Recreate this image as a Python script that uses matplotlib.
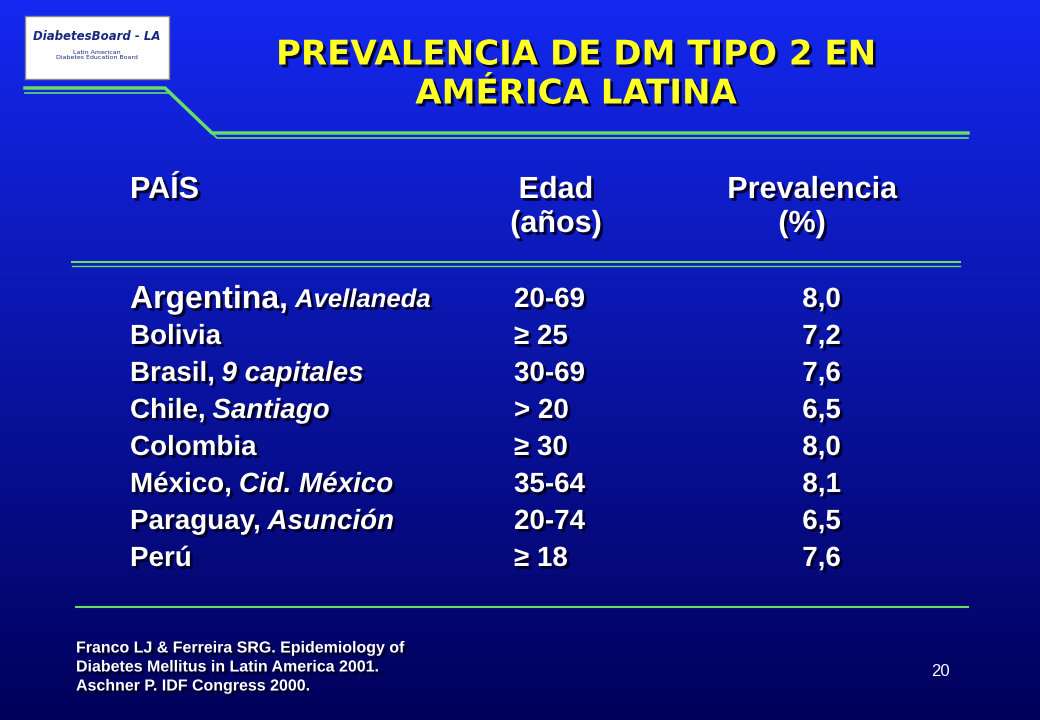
import numpy as np
import matplotlib
matplotlib.use("Agg")
import matplotlib.pyplot as plt
import matplotlib.patheffects as pe

title = ["PREVALENCIA DE DM TIPO 2 EN", "AMÉRICA LATINA"]
countries = ["Argentina,", "Bolivia", "Brasil,", "Chile,", "Colombia", "México,", "Paraguay,", "Perú"]
cities = ["Avellaneda", "", "9 capitales", "Santiago", "", "Cid. México", "Asunción", ""]
ages = ["20-69", "≥ 25", "30-69", "> 20", "≥ 30", "35-64", "20-74", "≥ 18"]
prevalence = [8.0, 7.2, 7.6, 6.5, 8.0, 8.1, 6.5, 7.6]
refs = ["Franco LJ & Ferreira SRG. Epidemiology of", "Diabetes Mellitus in Latin America 2001.", "Aschner P. IDF Congress 2000."]

fig = plt.figure(figsize=(10.4, 7.2), dpi=100)
ax = fig.add_axes([0, 0, 1, 1])
ax.set_xlim(0, 1040); ax.set_ylim(720, 0); ax.axis("off")

t = np.linspace(0, 1, 256)[:, None]
top = np.array([0x14, 0x28, 0xf0]) / 255
bot = np.array([0x00, 0x00, 0x5a]) / 255
grad = top * (1 - t[..., None]) + bot * t[..., None]
grad = np.repeat(grad, 2, axis=1)
ax.imshow(grad, extent=[0, 1040, 720, 0], aspect="auto", zorder=0)

sh = [pe.withSimplePatchShadow(offset=(2, -2), shadow_rgbFace="#000020", alpha=0.9)]
green = "#66dd66"

ax.add_patch(plt.Rectangle((25, 16), 144, 63, facecolor="white", edgecolor="#888888", zorder=2))
ax.text(97, 36, "DiabetesBoard - LA", fontsize=8.5, fontweight="bold", style="italic", color="#1a2a80", ha="center", va="center", zorder=3)
ax.text(97, 55, "Latin American\nDiabetes Education Board", fontsize=4.5, color="#1a2a80", ha="center", va="center", zorder=3)

for off, lw in [(0, 2.5), (5, 1.2)]:
    ax.plot([25, 165 + off, 212 + off, 968], [88 + off, 88 + off, 133 + off, 133 + off], color=green, lw=lw, zorder=2)

ax.text(576, 55, title[0], fontsize=24.5, fontweight="bold", color="#ffff22", ha="center", va="center", path_effects=sh)
ax.text(576, 94, title[1], fontsize=24.5, fontweight="bold", color="#ffff22", ha="center", va="center", path_effects=sh)

kw = dict(color="white", fontweight="bold", va="center", path_effects=sh, fontfamily="Liberation Sans")
ax.text(130, 190, "PAÍS", fontsize=22, **kw)
ax.text(556, 190, "Edad", fontsize=22, ha="center", **kw)
ax.text(556, 224, "(años)", fontsize=22, ha="center", **kw)
ax.text(812, 190, "Prevalencia", fontsize=22, ha="center", **kw)
ax.text(802, 224, "(%)", fontsize=22, ha="center", **kw)

ax.plot([72, 960], [262, 262], color=green, lw=1.5)
ax.plot([72, 960], [266, 266], color=green, lw=1.0)
ax.plot([76, 968], [607, 607], color=green, lw=1.5)

y0, dy = 300, 37
fig.canvas.draw()
for i, (c, ci, a, p) in enumerate(zip(countries, cities, ages, prevalence)):
    y = y0 + i * dy
    fs = 23 if i == 0 else 20
    t1 = ax.text(130, y, c, fontsize=fs, ha="left", **kw)
    if ci:
        bb = t1.get_window_extent(renderer=fig.canvas.get_renderer()).transformed(ax.transData.inverted())
        ax.text(bb.x1 + 7, y, ci, fontsize=20 if i else 18.5, style="italic", ha="left", **kw)
    ax.text(514, y, a, fontsize=20, ha="left", **kw)
    ax.text(841, y, f"{p:.1f}".replace(".", ","), fontsize=20, ha="right", **kw)

for j, r in enumerate(refs):
    ax.text(76, 648 + j * 19, r, fontsize=11.5, ha="left", **kw)
ax.text(940, 672, "20", fontsize=12, color="white", ha="center", va="center", fontfamily="Liberation Sans")

fig.savefig("out.png", dpi=100)
